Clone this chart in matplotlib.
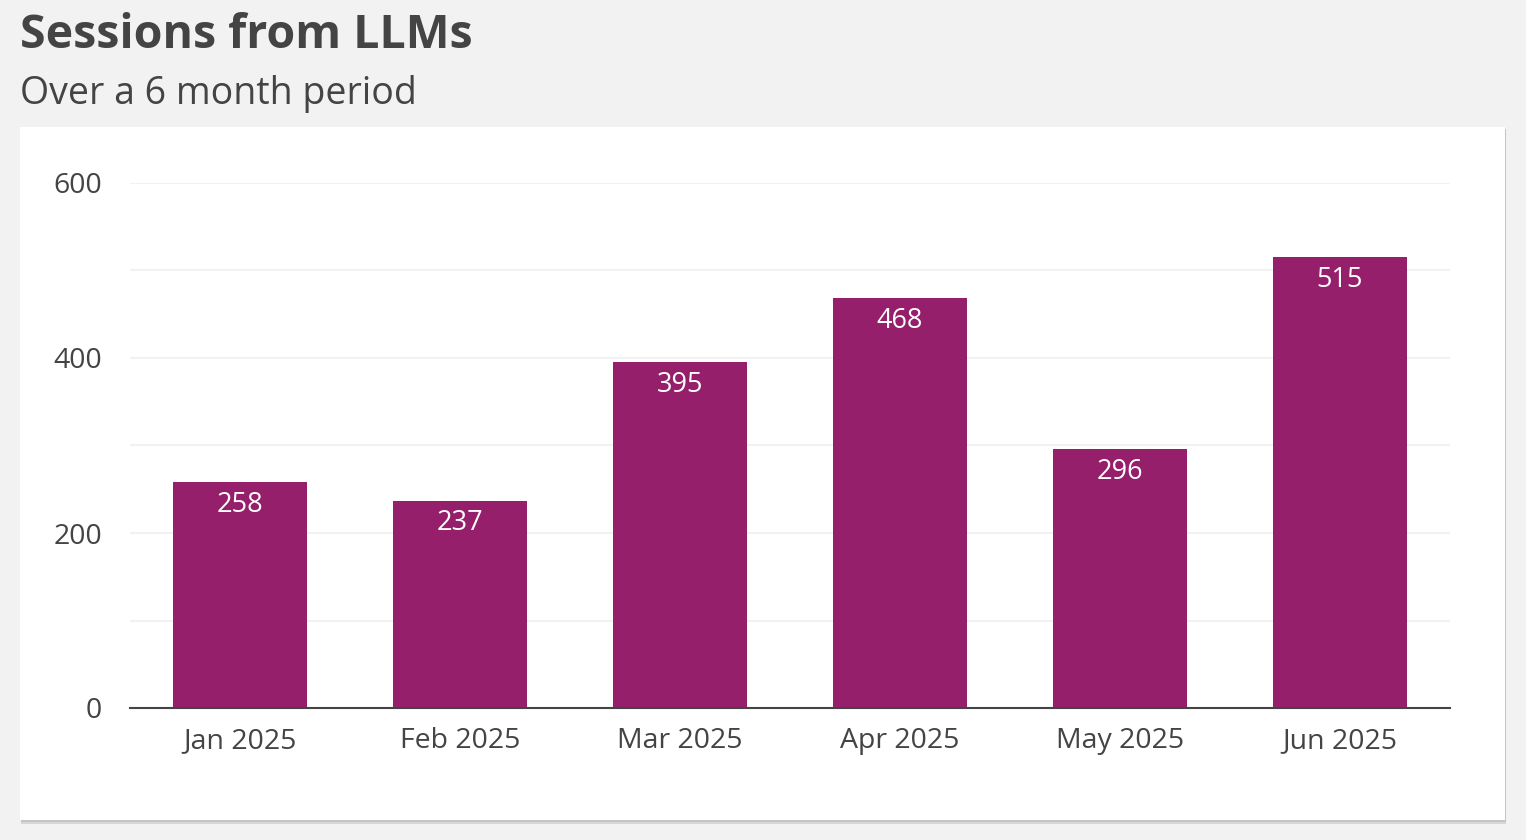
import matplotlib.pyplot as plt
from matplotlib.patches import Rectangle

# data
months = ['Jan 2025', 'Feb 2025', 'Mar 2025', 'Apr 2025', 'May 2025', 'Jun 2025']
sessions = [258, 237, 395, 468, 296, 515]
yticks = [0, 200, 400, 600]

plt.rcParams['font.family'] = ['Open Sans', 'DejaVu Sans']

W, H = 1526, 840
fig = plt.figure(figsize=(W / 100, H / 100), dpi=100)
fig.patch.set_facecolor('#f2f2f2')

# white card with a soft shadow
for off, col in [(4, '#d6d6d6'), (2, '#c4c4c4')]:
    fig.patches.append(Rectangle(((20 + off * 0.3) / W, 1 - (820 + off) / H), 1485 / W, 693 / H,
                                 transform=fig.transFigure, facecolor=col, edgecolor='none', zorder=-10))
fig.patches.append(Rectangle((20 / W, 1 - 820 / H), 1485 / W, 693 / H,
                             transform=fig.transFigure, facecolor='white', edgecolor='none', zorder=-9))

fig.text(20 / W, 1 - 48 / H, 'Sessions from LLMs', fontsize=33.5, fontweight='bold', color='#444444',
         ha='left', va='baseline')
fig.text(20 / W, 1 - 104 / H, 'Over a 6 month period', fontsize=27, color='#444444',
         ha='left', va='baseline')

ax = fig.add_axes([130 / W, 1 - 708 / H, 1320 / W, 525 / H])
ax.set_facecolor('none')
x = range(len(months))
bars = ax.bar(x, sessions, width=0.61, color='#961f6c', zorder=3)
for b, v in zip(bars, sessions):
    ax.text(b.get_x() + b.get_width() / 2, v - 10, str(v), ha='center', va='top',
            color='white', fontsize=19.5, zorder=4)

ax.set_xlim(-0.5, len(months) - 0.5)
ax.set_ylim(0, 600)
ax.set_yticks(yticks)
ax.set_yticks(range(100, 600, 200), minor=True)
ax.grid(axis='y', which='both', color='#f0f0f0', linewidth=1.2, zorder=0)
ax.set_xticks(list(x))
ax.set_xticklabels(months)
ax.tick_params(axis='both', which='both', length=0, labelsize=20.5, labelcolor='#444444')
ax.tick_params(axis='y', pad=20)
ax.tick_params(axis='x', pad=14)
for s in ['top', 'right', 'left']:
    ax.spines[s].set_visible(False)
ax.spines['bottom'].set_color('#444444')
ax.spines['bottom'].set_linewidth(1.5)
ax.spines['bottom'].set_zorder(5)

fig.savefig('out.png', dpi=100, facecolor=fig.get_facecolor())
